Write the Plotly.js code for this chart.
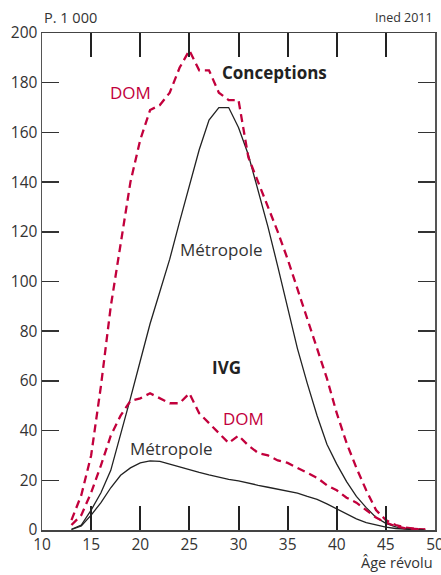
<!DOCTYPE html>
<html>
<head>
<meta charset="utf-8">
<script src="https://cdn.plot.ly/plotly-3.0.1.min.js"></script>
<style>html,body{margin:0;padding:0;background:#fff}#chart{width:441px;height:575px}</style>
</head>
<body>
<div id="chart"></div>
<script>
const ages = [13,14,15,16,17,18,19,20,21,22,23,24,25,26,27,28,29,30,31,32,33,34,35,36,37,38,39,40,41,42,43,44,45,46,47,48,49];
const conceptionsMetropole = [0.3,2,8,15,24,38,53,68,83,96,109,124,139,153,165,170,170,162,151,137,122,106,89,73,59,46,34.5,26.5,19.5,13.5,9,5,2.7,1.3,0.5,0.2,0.1];
const conceptionsDOM = [4,14,30,58,90,115,140,157,169,171,176,186,193,185,185,176,173,173,150,140,130,120,109,97,85,73,61,47,35,25,16,8,4,2,1,0.5,0.2];
const ivgMetropole = [0.2,1.6,6,11,17,22,25,27,27.8,27.6,26.5,25.3,24.3,23.2,22.2,21.2,20.4,19.8,18.8,18,17.2,16.5,15.5,14.8,13.5,12.3,10.5,8.5,6.5,4.5,3,2,1.2,0.6,0.3,0.1,0.05];
const ivgDOM = [2,6,15,26,38,46,52,53,55,53,51,51,55,47,43,39,35,38,34,31,30,28,27,25,23,21,18,16,13,11,8,5,3,1.5,0.7,0.3,0.1];
const xTicks = [10,15,20,25,30,35,40,45,50];
const yTicks = [0,20,40,60,80,100,120,140,160,180,200];

const RED = '#c2003c';
const DARK = '#222';
const FONT = 'Open Sans, Noto Sans, sans-serif';

const solid = {color: DARK, width: 1.3};
const dashed = {color: RED, width: 2.3, dash: '8px,5px'};

const data = [
  {x: ages, y: conceptionsMetropole, mode: 'lines', line: solid, name: 'Conceptions Métropole'},
  {x: ages, y: conceptionsDOM, mode: 'lines', line: dashed, name: 'Conceptions DOM'},
  {x: ages, y: ivgMetropole, mode: 'lines', line: solid, name: 'IVG Métropole'},
  {x: ages, y: ivgDOM, mode: 'lines', line: dashed, name: 'IVG DOM'}
];

const txt = (text, x, y, opts) => Object.assign({text, x, y, xref: 'x', yref: 'y', showarrow: false,
  font: {family: FONT, size: 17, color: '#333'}}, opts || {});

const layout = {
  width: 441, height: 575,
  margin: {l: 42, r: 6, t: 33, b: 45, pad: 0},
  paper_bgcolor: '#fff', plot_bgcolor: '#fff',
  showlegend: false,
  font: {family: FONT, size: 15, color: '#333'},
  xaxis: {
    range: [10, 50], tickvals: xTicks, ticktext: xTicks.map(String),
    ticks: 'inside', ticklen: 24, tickwidth: 2, tickcolor: DARK,
    showline: true, linecolor: '#444', linewidth: 1.5, mirror: 'ticks',
    showgrid: false, zeroline: false, ticklabeloverflow: 'allow',
    tickfont: {family: FONT, size: 15.5, color: '#333'}
  },
  yaxis: {
    range: [0, 200], tickvals: yTicks, ticktext: yTicks.map(String),
    ticks: 'inside', ticklen: 17, tickwidth: 1.5, tickcolor: '#333',
    showline: true, linecolor: '#555', linewidth: 1.5, mirror: 'ticks',
    showgrid: false, zeroline: false, ticklabeloverflow: 'allow',
    tickfont: {family: FONT, size: 15.5, color: '#333'}
  },
  annotations: [
    {text: 'P. 1 000', xref: 'paper', yref: 'paper', x: 0, y: 1.032, xanchor: 'left', yanchor: 'middle', showarrow: false,
     font: {family: FONT, size: 14.5, color: '#333'}},
    {text: 'Ined 2011', xref: 'paper', yref: 'paper', x: 1, y: 1.032, xanchor: 'right', yanchor: 'middle', showarrow: false,
     font: {family: FONT, size: 12.5, color: '#333'}},
    {text: 'Âge révolu', xref: 'paper', yref: 'paper', x: 1.0, y: -0.066, xanchor: 'right', yanchor: 'middle', showarrow: false,
     font: {family: FONT, size: 14.5, color: '#333'}},
    txt('<b>Conceptions</b>', 33.7, 184, {font: {family: FONT, size: 17, color: '#222'}}),
    txt('DOM', 18.96, 176, {font: {family: FONT, size: 17, color: RED}}),
    txt('Métropole', 28.3, 112.7),
    txt('<b>IVG</b>', 28.8, 65.2, {font: {family: FONT, size: 17, color: '#222'}}),
    txt('DOM', 30.46, 45, {font: {family: FONT, size: 17, color: RED}}),
    txt('Métropole', 23.23, 32.6)
  ]
};

Plotly.newPlot('chart', data, layout, {displayModeBar: false, staticPlot: true});
</script>
</body>
</html>
